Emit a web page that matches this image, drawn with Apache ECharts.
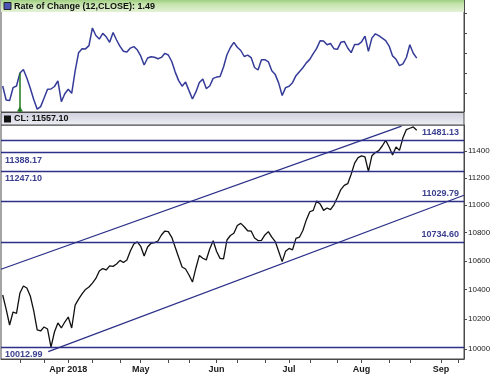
<!DOCTYPE html>
<html><head><meta charset="utf-8">
<script src="https://cdn.jsdelivr.net/npm/echarts@6/dist/echarts.min.js"></script>
<style>html,body{margin:0;padding:0;background:#fff}#c{width:500px;height:381px}</style>
</head><body><div id="c"></div>
<script>
// trading days (incl. future days shown on the axis)
const dates = ['2018-03-05','2018-03-06','2018-03-07','2018-03-08','2018-03-09','2018-03-12','2018-03-13','2018-03-14','2018-03-15','2018-03-16','2018-03-19','2018-03-20','2018-03-21','2018-03-22','2018-03-23','2018-03-26','2018-03-27','2018-03-28','2018-03-29',
'2018-04-02','2018-04-03','2018-04-04','2018-04-05','2018-04-06','2018-04-09','2018-04-10','2018-04-11','2018-04-12','2018-04-13','2018-04-16','2018-04-17','2018-04-18','2018-04-19','2018-04-20','2018-04-23','2018-04-24','2018-04-25','2018-04-26','2018-04-27','2018-04-30',
'2018-05-01','2018-05-02','2018-05-03','2018-05-04','2018-05-07','2018-05-08','2018-05-09','2018-05-10','2018-05-11','2018-05-14','2018-05-15','2018-05-16','2018-05-17','2018-05-18','2018-05-21','2018-05-22','2018-05-23','2018-05-24','2018-05-25','2018-05-29','2018-05-30','2018-05-31',
'2018-06-01','2018-06-04','2018-06-05','2018-06-06','2018-06-07','2018-06-08','2018-06-11','2018-06-12','2018-06-13','2018-06-14','2018-06-15','2018-06-18','2018-06-19','2018-06-20','2018-06-21','2018-06-22','2018-06-25','2018-06-26','2018-06-27','2018-06-28','2018-06-29',
'2018-07-02','2018-07-03','2018-07-05','2018-07-06','2018-07-09','2018-07-10','2018-07-11','2018-07-12','2018-07-13','2018-07-16','2018-07-17','2018-07-18','2018-07-19','2018-07-20','2018-07-23','2018-07-24','2018-07-25','2018-07-26','2018-07-27','2018-07-30','2018-07-31',
'2018-08-01','2018-08-02','2018-08-03','2018-08-06','2018-08-07','2018-08-08','2018-08-09','2018-08-10','2018-08-13','2018-08-14','2018-08-15','2018-08-16','2018-08-17','2018-08-20','2018-08-21','2018-08-22','2018-08-23',
'2018-08-24','2018-08-27','2018-08-28','2018-08-29','2018-08-30','2018-08-31','2018-09-04','2018-09-05','2018-09-06','2018-09-07','2018-09-10','2018-09-11','2018-09-12'];

const closes = [10364,10268,10160,10248,10238,10378,10426,10412,10357,10255,10127,10120,10147,10133,10012.99,10113,10174,10140,10180,
10214,10140,10295,10336,10371,10402,10419,10446,10478,10530,10547,10537,10565,10562,10579,10604,10589,10607,10670,10720,10734.60,
10703,10635,10698,10725,10730,10741,10784,10812,10808,10767,10697,10626,10558,10544,10502,10453,10551,10639,10619,10607,10684,10743,
10667,10618,10614,10748,10780,10796,10852,10867,10843,10814,10812,10762,10744,10746,10784,10808,10768,10737,10667,10595,10669,
10688,10678,10760,10768,10816,10892,10951,10961,11029.79,11008,10961,10978,10966,11001,11055,11113,11144,11156,11226,11309,11350,
11363,11355,11247.10,11364,11388.17,11403,11438,11481.13,11430,11370,11430,11405,11500,11563,11573,11583,11557.10];

const roc = [-1.3,-2.7,-2.76,-1.47,-1.3,0.0,0.35,-0.5,-1.53,-2.65,-3.62,-3.36,-2.5,-1.62,-1.6,-1.35,-0.78,-2.87,-2.08,
-1.63,-2.03,0.22,2.03,2.42,2.41,2.74,4.5,3.75,3.39,3.96,3.62,3.07,4.05,3.3,2.66,2.17,2.1,2.49,2.64,2.32,
1.71,0.8,1.5,1.63,1.57,1.42,1.56,1.97,1.8,1.15,0.09,-0.76,-1.32,-0.91,-1.76,-2.6,-1.89,-0.95,-0.61,-1.56,-1.3,-0.54,
-0.41,-0.35,0.6,1.82,2.55,3.06,2.57,2.25,1.65,1.79,1.54,0.55,0.3,1.32,1.33,1.12,0.22,-0.16,-1.01,-2.25,-1.46,
-1.33,-0.97,-0.27,0.13,0.52,1.01,1.36,1.94,2.46,3.23,3.2,2.82,2.95,2.43,2.37,3.07,3.16,2.5,2.04,2.85,2.84,
3.11,3.69,2.16,3.49,3.92,3.73,3.49,3.24,2.69,1.71,1.37,0.74,0.92,1.55,2.82,1.98,1.49];

const levelsLeft = [11388.17, 11247.10, 10012.99];
const levelsRight = [11481.13, 11029.79, 10734.60];
const upperChannel = [[-0.49, 10542], [115.6, 11590]];
const lowerChannel = [[13.2, 9982], [133.7, 11071]];
const priceTicks = [10000,10200,10400,10600,10800,11000,11200,11400];
const rocTicks = [-2,0,2,4,6];
const signalIndex = 5;
const monthNames = ['Jan','Feb','Mar','Apr','May','Jun','Jul','Aug','Sep','Oct','Nov','Dec'];

const lastClose = closes[closes.length - 1];
const lastRoc = roc[roc.length - 1];

// first trading day of each month, and of the 2nd / 3rd part of each month
const monthIdx = [], thirdIdx = [];
dates.forEach((d, i) => {
  if (i > 0 && d.slice(5, 7) !== dates[i - 1].slice(5, 7)) monthIdx.push(i);
  const day = +d.slice(8), prev = i > 0 ? +dates[i - 1].slice(8) : 0;
  if (i > 0 && d.slice(5, 7) === dates[i - 1].slice(5, 7) && ((day >= 11 && prev < 11) || (day >= 21 && prev < 21))) thirdIdx.push(i);
});
const tickIdx = monthIdx.concat(thirdIdx).sort((a, b) => a - b);

const FONT = "'Liberation Sans', Arial, sans-serif";
const NAVY = '#2c3088';
const AXIS = '#4a4a4a';

const chart = echarts.init(document.getElementById('c'), null, {renderer: 'canvas'});
chart.setOption({
  animation: false,
  backgroundColor: '#ffffff',
  grid: [
    {left: 1, right: 36, top: 0, height: 112, show: true, borderColor: AXIS, borderWidth: 1, backgroundColor: '#fff'},
    {left: 1, right: 36, top: 125, height: 234, show: true, borderColor: AXIS, borderWidth: 1, backgroundColor: '#fff'}
  ],
  xAxis: [
    {type: 'value', gridIndex: 0, min: -0.49, max: 133.7, axisLine: {show: false, onZero: false}, axisTick: {show: false},
     axisLabel: {show: false}, splitLine: {show: false}},
    {type: 'value', gridIndex: 1, min: -0.49, max: 133.7,
     axisLine: {show: true, onZero: false, lineStyle: {color: AXIS}},
     axisTick: {show: true, customValues: tickIdx, length: 4, lineStyle: {color: AXIS}},
     axisLabel: {customValues: monthIdx, margin: 6, color: '#1a1a1a', fontSize: 9, fontFamily: FONT, fontWeight: 'bold',
       formatter: (v) => {
         const i = Math.round(v);
         const d = dates[i];
         const m = monthNames[+d.slice(5, 7) - 1];
         return i === monthIdx[0] ? m + ' ' + d.slice(0, 4) : m;
       }},
     splitLine: {show: false}}
  ],
  yAxis: [
    {type: 'value', gridIndex: 0, position: 'right', min: -3.9, max: 7.3,
     axisLine: {show: true, onZero: false, lineStyle: {color: AXIS}},
     axisTick: {show: true, customValues: rocTicks, length: 3, lineStyle: {color: AXIS}},
     axisLabel: {show: false}, splitLine: {show: false}},
    {type: 'log', logBase: 10, gridIndex: 1, position: 'right', min: 9934, max: 11598,
     axisLine: {show: true, onZero: false, lineStyle: {color: AXIS}},
     axisTick: {show: true, customValues: priceTicks, length: 3, lineStyle: {color: AXIS}},
     axisLabel: {customValues: priceTicks, margin: 4, color: '#1a1a1a', fontSize: 8, fontFamily: FONT,
       formatter: v => String(Math.round(v))},
     splitLine: {show: false}}
  ],
  series: [
    {
      type: 'line', xAxisIndex: 0, yAxisIndex: 0, showSymbol: false,
      data: roc.map((v, i) => [i, v]),
      lineStyle: {color: '#353b98', width: 1.5}, itemStyle: {color: '#353b98'},
      markLine: {
        silent: true, symbol: 'none', animation: false,
        lineStyle: {color: '#1f7a1f', width: 1.5, type: 'solid'},
        label: {show: false},
        data: [[{coord: [signalIndex, roc[signalIndex]]}, {coord: [signalIndex, -3.9]}]]
      },
      markPoint: {
        silent: true, symbol: 'triangle', symbolSize: [6, 5], itemStyle: {color: '#1f7a1f'}, label: {show: false},
        data: [{coord: [signalIndex, -3.6]}]
      }
    },
    {
      type: 'line', xAxisIndex: 1, yAxisIndex: 1, showSymbol: false,
      data: closes.map((v, i) => [i, v]),
      lineStyle: {color: '#111', width: 1.3}, itemStyle: {color: '#111'},
      markLine: {
        silent: true, symbol: 'none', animation: false,
        lineStyle: {color: NAVY, width: 1.3, type: 'solid'},
        data: [
          ...levelsLeft.map(v => ({yAxis: v, label: {show: true, position: 'insideStartBottom', distance: [4, 3],
              formatter: v.toFixed(2), color: '#3a3f8f', fontSize: 9, fontWeight: 'bold', fontFamily: FONT}})),
          ...levelsRight.map(v => ({yAxis: v, label: {show: true, position: 'insideEndTop', distance: [5, 3],
              formatter: v.toFixed(2), color: '#3a3f8f', fontSize: 9, fontWeight: 'bold', fontFamily: FONT}})),
          [{coord: upperChannel[0], label: {show: false}}, {coord: upperChannel[1]}],
          [{coord: lowerChannel[0], label: {show: false}}, {coord: lowerChannel[1]}],
          {yAxis: lastClose, lineStyle: {opacity: 0},
           label: {show: true, position: 'end', distance: 3, formatter: lastClose.toFixed(2),
             backgroundColor: '#ffff3c', borderColor: '#444', borderWidth: 1, padding: [2, 2, 1, 2],
             color: '#111', fontSize: 9, fontFamily: FONT}}
        ]
      }
    }
  ],
  graphic: [
    {type: 'rect', shape: {x: 1, y: 0, width: 463, height: 12}, z: 100,
     style: {fill: new echarts.graphic.LinearGradient(0, 0, 0, 1, [{offset: 0, color: '#9fcf80'}, {offset: 0.35, color: '#c6e4ad'}, {offset: 1, color: '#e3f1d6'}])}},
    {type: 'rect', shape: {x: 4, y: 2.5, width: 7, height: 7}, z: 101, style: {fill: '#4b56b4', stroke: '#222', lineWidth: 1}},
    {type: 'text', x: 14, y: 6.5, z: 101,
     style: {text: 'Rate of Change (12,CLOSE): ' + lastRoc.toFixed(2), fill: '#111', font: 'bold 9px ' + FONT, verticalAlign: 'middle'}},
    {type: 'rect', shape: {x: 1, y: 112.5, width: 463, height: 12.5}, z: 100,
     style: {fill: new echarts.graphic.LinearGradient(0, 0, 0, 1, [{offset: 0, color: '#cfcfde'}, {offset: 1, color: '#eeeef4'}]), stroke: AXIS, lineWidth: 1}},
    {type: 'rect', shape: {x: 4, y: 115.5, width: 7, height: 7}, z: 101, style: {fill: '#111'}},
    {type: 'text', x: 14, y: 119, z: 101,
     style: {text: 'CL: ' + lastClose.toFixed(2), fill: '#111', font: 'bold 9px ' + FONT, verticalAlign: 'middle'}}
  ]
});
</script>
</body></html>
